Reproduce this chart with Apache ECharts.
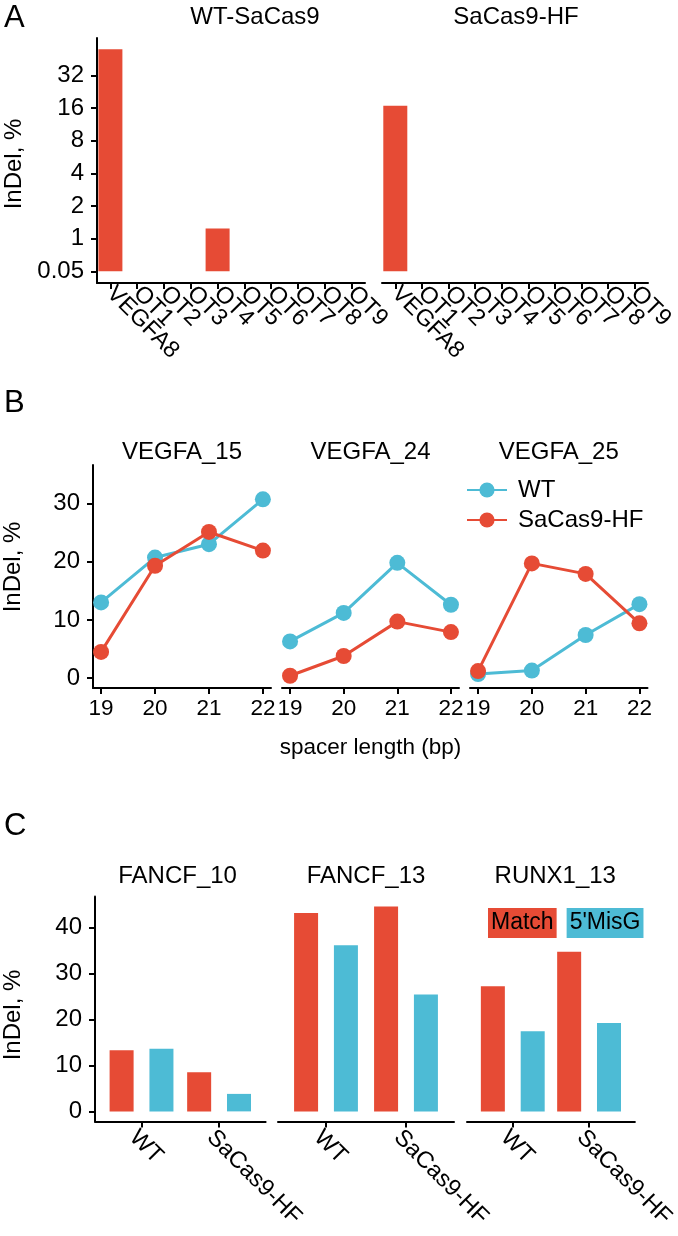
<!DOCTYPE html>
<html><head><meta charset="utf-8">
<script src="https://cdn.jsdelivr.net/npm/echarts@6/dist/echarts.min.js"></script>
<style>html,body{margin:0;padding:0;background:#fff}#c{width:678px;height:1236px}</style>
</head><body><div id="c"></div>
<script>
// ---------- Panel A data ----------
const aFacets = ['WT-SaCas9', 'SaCas9-HF'];
const aCategories = ['VEGFA8','OT1','OT2','OT3','OT4','OT5','OT6','OT7','OT8','OT9'];
const aWT = [56, null, null, null, 1.24, null, null, null, null, null];
const aHF = [16.8, null, null, null, null, null, null, null, null, null];
const aTickValues = [0.5, 1, 2, 4, 8, 16, 32];
const aTickLabels = ['0.05', '1', '2', '4', '8', '16', '32'];

// ---------- Panel B data ----------
const bFacets = ['VEGFA_15', 'VEGFA_24', 'VEGFA_25'];
const bSpacer = [19, 20, 21, 22];
const bWT = [[13.0, 20.7, 23.0, 30.7], [6.3, 11.2, 19.8, 12.6], [0.7, 1.3, 7.4, 12.7]];
const bHF = [[4.5, 19.3, 25.1, 21.9], [0.4, 3.8, 9.7, 7.9], [1.2, 19.7, 17.9, 9.4]];
const bYTicks = [0, 10, 20, 30];

// ---------- Panel C data ----------
const cFacets = ['FANCF_10', 'FANCF_13', 'RUNX1_13'];
const cGroups = ['WT', 'SaCas9-HF'];
const cMatch = [[13.3, 8.5], [43.1, 44.5], [27.2, 34.7]];
const cMisG = [[13.6, 3.8], [36.1, 25.4], [17.4, 19.2]];
const cYTicks = [0, 10, 20, 30, 40];

// ---------- styling ----------
const RED = '#E64B35', BLUE = '#4DBBD5';
const FONT = '"Liberation Sans", Arial, Helvetica, sans-serif';
const YLBL = 24, XLBL = 22.5, RLBL = 23.5, TTL = 24, LETTER = 31;
const line = (show) => ({ show: show, onZero: false, lineStyle: { color: '#000', width: 2 } });
const tick = (vals) => ({ show: true, length: 6, customValues: vals, lineStyle: { color: '#000', width: 2 } });
const lbl = (size, extra) => Object.assign({ color: '#000', fontSize: size, fontFamily: FONT }, extra || {});
const nearestIdx = (arr, v) => arr.findIndex(t => Math.abs(t - v) < 1e-6 * Math.max(1, Math.abs(t)));
const nameStyle = (pad) => ({ color: '#000', fontSize: TTL, fontFamily: FONT, padding: pad });

const grids = [], xAxes = [], yAxes = [], series = [], titles = [];

// Panel A layout
const aGridLeft = [97, 382], aGridWidth = [268, 266], aTitleX = [255, 516];
aFacets.forEach((f, i) => {
  grids.push({ left: aGridLeft[i], top: 38, width: aGridWidth[i], height: 245 });
  xAxes.push({
    type: 'category', gridIndex: grids.length - 1, data: aCategories,
    axisLine: line(true),
    axisTick: { show: true, alignWithLabel: true, interval: 0, length: 6, lineStyle: { color: '#000', width: 2 } },
    axisLabel: lbl(RLBL, { interval: 0, rotate: -45, margin: 7 }),
    splitLine: { show: false }
  });
  yAxes.push({
    type: 'log', logBase: 2, gridIndex: grids.length - 1, min: 0.39, max: 71, startValue: 0.5,
    show: i === 0,
    axisLine: line(true), axisTick: tick(aTickValues),
    axisLabel: lbl(YLBL, { customValues: aTickValues, margin: 13,
      formatter: v => { const k = nearestIdx(aTickValues, v); return k >= 0 ? aTickLabels[k] : ''; } }),
    splitLine: { show: false },
    name: i === 0 ? 'InDel, %' : '', nameLocation: 'middle', nameGap: 71,
    nameTextStyle: nameStyle([0, 7, 0, 0])
  });
  series.push({
    type: 'bar', name: 'A ' + f, xAxisIndex: xAxes.length - 1, yAxisIndex: yAxes.length - 1,
    data: i === 0 ? aWT : aHF, barWidth: 24, itemStyle: { color: RED }
  });
  titles.push({ text: f, left: aTitleX[i], top: 17, textAlign: 'center', textVerticalAlign: 'middle', padding: 0,
    textStyle: { fontSize: TTL, fontWeight: 'normal', color: '#000', fontFamily: FONT } });
});

// Panel B layout
const bGridLeft = [93, 282, 470], bGridWidth = [178, 177, 177.5];
bFacets.forEach((f, i) => {
  grids.push({ left: bGridLeft[i], top: 465, width: bGridWidth[i], height: 223 });
  const gi = grids.length - 1;
  xAxes.push({
    type: 'value', gridIndex: gi, min: 18.85, max: 22.15,
    axisLine: line(true), axisTick: tick(bSpacer),
    axisLabel: lbl(XLBL, { customValues: bSpacer, margin: 9 }),
    splitLine: { show: false },
    name: i === 1 ? 'spacer length (bp)' : '', nameLocation: 'middle', nameGap: 48,
    nameTextStyle: { color: '#000', fontSize: XLBL, fontFamily: FONT }
  });
  yAxes.push({
    type: 'value', gridIndex: gi, min: -1.7, max: 36.6, show: i === 0,
    axisLine: line(true), axisTick: tick(bYTicks),
    axisLabel: lbl(YLBL, { customValues: bYTicks, margin: 13 }),
    splitLine: { show: false },
    name: i === 0 ? 'InDel, %' : '', nameLocation: 'middle', nameGap: 68,
    nameTextStyle: nameStyle([0, 0, 0, 19])
  });
  const xi = xAxes.length - 1, yi = yAxes.length - 1;
  series.push({
    type: 'line', name: 'WT', xAxisIndex: xi, yAxisIndex: yi,
    data: bSpacer.map((x, k) => [x, bWT[i][k]]),
    symbol: 'circle', symbolSize: 16, color: BLUE,
    lineStyle: { color: BLUE, width: 3 }, itemStyle: { color: BLUE }, z: 2
  });
  series.push({
    type: 'line', name: 'SaCas9-HF', xAxisIndex: xi, yAxisIndex: yi,
    data: bSpacer.map((x, k) => [x, bHF[i][k]]),
    symbol: 'circle', symbolSize: 16, color: RED,
    lineStyle: { color: RED, width: 3 }, itemStyle: { color: RED }, z: 3
  });
  titles.push({ text: f, left: bGridLeft[i] + bGridWidth[i] / 2, top: 452, textAlign: 'center', textVerticalAlign: 'middle', padding: 0,
    textStyle: { fontSize: TTL, fontWeight: 'normal', color: '#000', fontFamily: FONT } });
});

// Panel C layout
const cGridLeft = [89.6, 278, 467], cGridWidth = [176, 176, 176.5];
const cGroupPos = [1, 2];
cFacets.forEach((f, i) => {
  grids.push({ left: cGridLeft[i], top: 896.5, width: cGridWidth[i], height: 225 });
  const gi = grids.length - 1;
  xAxes.push({
    type: 'value', gridIndex: gi, min: 0.4, max: 2.6,
    axisLine: line(true), axisTick: tick(cGroupPos),
    axisLabel: lbl(RLBL, { customValues: cGroupPos, rotate: -45, margin: 4, align: 'left', verticalAlign: 'top',
      formatter: v => cGroups[Math.round(v) - 1] || '' }),
    splitLine: { show: false }
  });
  yAxes.push({
    type: 'value', gridIndex: gi, min: -2.2, max: 46.7, show: i === 0,
    axisLine: line(true), axisTick: tick(cYTicks),
    axisLabel: lbl(YLBL, { customValues: cYTicks, margin: 13 }),
    splitLine: { show: false },
    name: i === 0 ? 'InDel, %' : '', nameLocation: 'middle', nameGap: 70,
    nameTextStyle: nameStyle([0, 12, 0, 0])
  });
  const xi = xAxes.length - 1, yi = yAxes.length - 1;
  series.push({
    type: 'bar', name: 'Match', xAxisIndex: xi, yAxisIndex: yi,
    data: cGroupPos.map((x, k) => [x, cMatch[i][k]]),
    barWidth: 24, barGap: '66%', itemStyle: { color: RED }
  });
  series.push({
    type: 'bar', name: "5'MisG", xAxisIndex: xi, yAxisIndex: yi,
    data: cGroupPos.map((x, k) => [x, cMisG[i][k]]),
    barWidth: 24, barGap: '66%', itemStyle: { color: BLUE }
  });
  titles.push({ text: f, left: cGridLeft[i] + cGridWidth[i] / 2, top: 876, textAlign: 'center', textVerticalAlign: 'middle', padding: 0,
    textStyle: { fontSize: TTL, fontWeight: 'normal', color: '#000', fontFamily: FONT } });
});

// Panel letters
[['A', 18], ['B', 403], ['C', 826]].forEach(([t, y]) => {
  titles.push({ text: t, left: 4, top: y, textVerticalAlign: 'middle', padding: 0,
    textStyle: { fontSize: LETTER, fontWeight: 'normal', color: '#000', fontFamily: FONT } });
});

const option = {
  animation: false,
  backgroundColor: '#fff',
  textStyle: { fontFamily: FONT },
  title: titles,
  grid: grids,
  xAxis: xAxes,
  yAxis: yAxes,
  legend: [
    {
      data: ['WT', 'SaCas9-HF'], orient: 'vertical', left: 466, top: 478,
      itemWidth: 40, itemHeight: 19, itemGap: 6, padding: 0,
      textStyle: { color: '#000', fontSize: TTL, fontFamily: FONT, padding: [0, 0, 0, 6] }
    },
    {
      data: [
        { name: 'Match', textStyle: { backgroundColor: RED } },
        { name: "5'MisG", textStyle: { backgroundColor: BLUE } }
      ],
      icon: 'none', itemWidth: 0, itemHeight: 10, itemGap: 5, left: 483, top: 908, padding: 0,
      textStyle: { color: '#000', fontSize: 23, fontFamily: FONT, padding: [4, 3, 3, 3] }
    }
  ],
  series: series
};
const chart = echarts.init(document.getElementById('c'));
chart.setOption(option);
</script>
</body></html>
